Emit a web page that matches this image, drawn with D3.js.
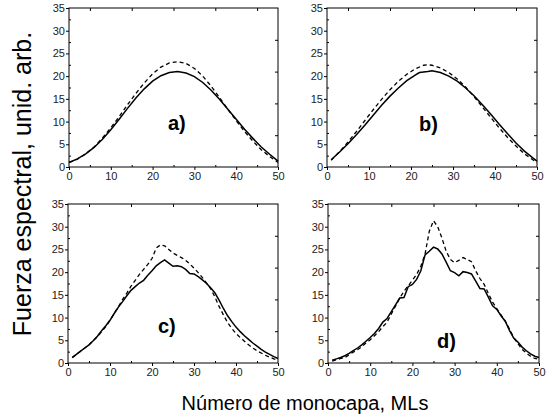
<!DOCTYPE html>
<html><head><meta charset="utf-8">
<script src="https://cdn.jsdelivr.net/npm/d3@7/dist/d3.min.js"></script>
<style>body{margin:0;background:#fff}svg{display:block}text{font-family:"Liberation Sans",Arial,sans-serif}</style>
</head><body><svg id="c" width="552" height="418"></svg>
<script>
const xTicks = [0,10,20,30,40,50];
const yTicks = [0,5,10,15,20,25,30,35];
const panelLabels = ["a)","b)","c)","d)"];

const xA = [0,2,4,6,8,10,12,14,16,18,20,22,24,26,28,30,32,34,36,38,40,42,44,46,48,50];
const aSolid = [1.0,1.8,2.9,4.3,6.1,8.2,10.5,12.9,15.2,17.2,18.9,20.1,20.8,21.0,20.7,19.9,18.6,16.9,14.9,12.7,10.5,8.3,6.3,4.4,2.8,1.3];
const aDash  = [1.0,1.7,2.9,4.4,6.4,8.6,11.1,13.7,16.2,18.5,20.5,22.0,22.9,23.2,22.8,21.7,20.0,17.8,15.3,12.7,10.2,7.8,5.7,3.8,2.3,1.0];

const xB = [1,3,5,7,9,11,13,15,17,19,21,22,23,24,25,27,29,31,33,35,37,39,41,43,45,47,49,50];
const bSolid = [1.6,3.3,5.1,7.1,9.2,11.4,13.6,15.6,17.4,19.0,20.2,20.8,20.9,21.0,21.2,20.8,20.0,18.9,17.4,15.7,13.7,11.6,9.4,7.3,5.3,3.5,2.0,1.3];
const xBd = [1,3,5,7,9,11,13,15,17,19,21,23,24,25,27,29,31,33,35,37,39,41,43,45,47,49,50];
const bDash  = [1.5,3.4,5.5,7.8,10.2,12.6,14.9,17.0,18.9,20.4,21.6,22.4,22.5,22.4,21.8,20.8,19.4,17.6,15.5,13.2,10.9,8.6,6.5,4.6,2.9,1.6,1.0];

const xC = d3.range(1,51);
const cSolid = [1.2,1.9,2.6,3.3,4.0,4.9,5.9,7.1,8.2,9.4,10.9,12.3,13.5,14.8,16.0,16.8,17.6,18.2,19.3,20.3,21.4,22.1,22.7,22.0,21.3,21.4,21.2,20.6,19.7,19.6,19.0,18.3,17.5,16.5,15.4,13.8,12.0,10.4,9.1,7.9,6.9,6.0,5.2,4.4,3.7,3.0,2.4,1.9,1.4,1.0];
const cDash  = [1.2,1.9,2.6,3.3,4.0,4.9,5.8,6.9,8.0,9.4,10.9,12.4,14.0,15.4,16.9,18.2,19.5,20.6,21.7,23.0,25.3,26.0,25.8,25.0,24.2,23.7,23.2,22.6,21.8,20.9,19.9,18.8,17.6,16.3,14.5,12.4,10.6,8.9,7.6,6.5,5.6,4.8,4.0,3.3,2.7,2.2,1.7,1.3,0.9,0.6];

const xD = d3.range(1,51);
const dSolid = [0.6,0.9,1.2,1.6,2.1,2.7,3.3,4.0,4.8,5.6,6.5,7.6,9.0,9.8,11.3,12.8,14.3,14.4,16.8,17.3,18.4,20.3,23.8,24.6,25.5,25.1,24.0,22.2,20.3,19.9,19.2,20.1,19.9,19.6,18.0,16.4,16.3,14.5,12.6,11.8,10.4,9.2,7.2,5.5,4.6,3.5,2.7,2.0,1.5,1.2];
const dDash  = [0.4,0.7,1.0,1.2,1.8,2.4,2.9,3.6,4.4,5.1,6.0,6.9,8.0,9.0,10.8,12.5,14.3,15.8,17.0,18.2,19.5,21.3,24.0,29.0,31.3,30.0,27.5,24.6,22.8,22.1,22.6,23.2,22.8,22.3,20.3,18.6,17.3,15.3,13.4,12.0,10.6,9.2,7.5,5.6,4.3,3.0,2.2,1.5,1.0,0.8];

const panels = [
  {l:69, r:278, t:8, b:167, solid:[xA,aSolid], dash:[xA,aDash], lab:[168,130]},
  {l:327, r:537, t:8, b:167, solid:[xB,bSolid], dash:[xBd,bDash], lab:[419,131]},
  {l:68, r:278, t:204, b:363, solid:[xC,cSolid], dash:[xC,cDash], lab:[158,333]},
  {l:328, r:539, t:204, b:363, solid:[xD,dSolid], dash:[xD,dDash], lab:[437,348]}
];

const svg = d3.select("#c");
panels.forEach((p,i)=>{
  const x = d3.scaleLinear().domain([0,50]).range([p.l,p.r]);
  const y = d3.scaleLinear().domain([0,35]).range([p.b,p.t]);
  const g = svg.append("g");
  g.append("rect").attr("x",p.l).attr("y",p.t).attr("width",p.r-p.l).attr("height",p.b-p.t)
    .attr("fill","none").attr("stroke","#000").attr("stroke-width",1);
  const bx = g.append("g").attr("transform",`translate(0,${p.b})`)
    .call(d3.axisBottom(x).tickValues(xTicks).tickSize(3).tickPadding(2).tickFormat(d3.format("d")));
  const ly = g.append("g").attr("transform",`translate(${p.l},0)`)
    .call(d3.axisLeft(y).tickValues(yTicks).tickSize(3).tickPadding(1).tickFormat(d3.format("d")));
  [bx,ly].forEach(a=>{
    a.select(".domain").remove();
    a.selectAll("text").attr("font-size",11).attr("fill","#222").style("font-family","Liberation Sans, Arial, sans-serif");
    a.selectAll("line").attr("stroke","#000");
  });
  g.append("g").attr("transform",`translate(0,${p.b})`)
    .call(d3.axisTop(x).tickValues([5,15,25,35,45]).tickSize(2).tickFormat(""))
    .call(a=>a.select(".domain").remove());
  g.append("g").attr("transform",`translate(${p.l},0)`)
    .call(d3.axisRight(y).tickValues([2.5,7.5,12.5,17.5,22.5,27.5,32.5]).tickSize(2).tickFormat(""))
    .call(a=>a.select(".domain").remove());
  g.append("g").attr("transform",`translate(0,${p.t})`)
    .call(d3.axisBottom(x).tickValues([5,15,25,35,45]).tickSize(3).tickFormat(""))
    .call(a=>a.select(".domain").remove());
  g.append("g").attr("transform",`translate(${p.r},0)`)
    .call(d3.axisLeft(y).tickValues([7,14,21,28]).tickSize(3).tickFormat(""))
    .call(a=>a.select(".domain").remove());
  const line = d3.line().x(d=>x(d[0])).y(d=>y(d[1]));
  const sd = d3.zip(p.solid[0], p.solid[1]);
  const dd = d3.zip(p.dash[0], p.dash[1]);
  g.append("path").datum(dd).attr("d",line).attr("fill","none").attr("stroke","#000")
    .attr("stroke-width",1.3).attr("stroke-dasharray","4,3");
  g.append("path").datum(sd).attr("d",line).attr("fill","none").attr("stroke","#000")
    .attr("stroke-width",1.5);
  g.append("text").attr("x",p.lab[0]).attr("y",p.lab[1]).attr("font-size",20).attr("font-weight","bold")
    .text(panelLabels[i]);
});

svg.append("text").attr("transform","translate(31,184) rotate(-90)").attr("text-anchor","middle")
  .attr("font-size",25).text("Fuerza espectral, unid. arb.");
svg.append("text").attr("x",305).attr("y",410).attr("text-anchor","middle")
  .attr("font-size",20).text("Número de monocapa, MLs");
</script></body></html>
